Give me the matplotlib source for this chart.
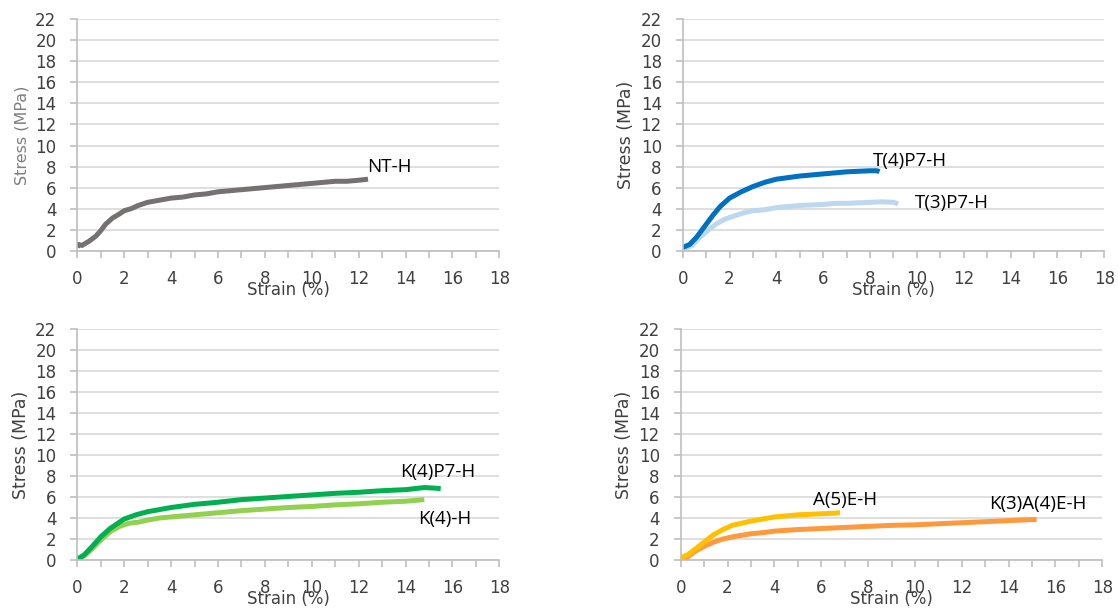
import matplotlib
matplotlib.use("Agg")
import matplotlib.pyplot as plt
from matplotlib.ticker import MultipleLocator

# ---- data ----
nt_x = [0.0, 0.05, 0.2, 0.5, 0.8, 1.0, 1.2, 1.5, 1.8, 2.0, 2.3, 2.6, 3.0, 3.5, 4.0, 4.5, 5.0, 5.5, 6.0, 6.5,
        7.0, 7.5, 8.0, 8.5, 9.0, 9.5, 10.0, 10.5, 11.0, 11.5, 12.0, 12.4]
nt_y = [0.3, 0.6, 0.5, 0.9, 1.4, 1.9, 2.5, 3.1, 3.5, 3.8, 4.0, 4.3, 4.6, 4.8, 5.0, 5.1, 5.3, 5.4, 5.6, 5.7,
        5.8, 5.9, 6.0, 6.1, 6.2, 6.3, 6.4, 6.5, 6.6, 6.6, 6.7, 6.8]

t4_x = [0.0, 0.3, 0.6, 1.0, 1.3, 1.6, 2.0, 2.5, 3.0, 3.5, 4.0, 4.5, 5.0, 5.5, 6.0, 6.5, 7.0, 7.5, 8.0, 8.3, 8.4]
t4_y = [0.3, 0.6, 1.3, 2.5, 3.4, 4.2, 5.0, 5.6, 6.1, 6.5, 6.8, 6.95, 7.1, 7.2, 7.3, 7.4, 7.5, 7.55, 7.6, 7.6, 7.5]

t3_x = [0.1, 0.4, 0.7, 1.0, 1.4, 1.8, 2.2, 2.6, 3.0, 3.5, 4.0, 4.5, 5.0, 5.5, 6.0, 6.5, 7.0, 7.5, 8.0, 8.5, 9.0, 9.2]
t3_y = [0.2, 0.5, 1.2, 1.8, 2.5, 3.0, 3.3, 3.6, 3.8, 3.9, 4.1, 4.2, 4.3, 4.35, 4.4, 4.5, 4.5, 4.55, 4.6, 4.65, 4.6, 4.45]

k4p_x = [0.0, 0.3, 0.6, 1.0, 1.4, 1.8, 2.0, 2.5, 3.0, 3.5, 4.0, 5.0, 6.0, 7.0, 8.0, 9.0, 10.0, 11.0, 12.0, 13.0,
         14.0, 14.8, 15.2, 15.5]
k4p_y = [0.0, 0.5, 1.2, 2.2, 3.0, 3.6, 3.9, 4.3, 4.6, 4.8, 5.0, 5.3, 5.5, 5.75, 5.9, 6.05, 6.2, 6.35, 6.45, 6.6,
         6.7, 6.9, 6.85, 6.8]

k4_x = [0.0, 0.3, 0.6, 1.0, 1.4, 1.8, 2.2, 2.6, 3.0, 3.5, 4.0, 5.0, 6.0, 7.0, 8.0, 9.0, 10.0, 11.0, 12.0, 13.0,
        14.0, 14.8]
k4_y = [0.2, 0.4, 1.0, 1.9, 2.7, 3.2, 3.5, 3.6, 3.8, 4.0, 4.1, 4.3, 4.5, 4.7, 4.85, 5.0, 5.1, 5.25, 5.35, 5.5,
        5.6, 5.75]

a5_x = [0.0, 0.3, 0.6, 1.0, 1.4, 1.8, 2.2, 2.6, 3.0, 3.5, 4.0, 4.5, 5.0, 5.5, 6.0, 6.5, 6.8]
a5_y = [0.2, 0.5, 1.0, 1.7, 2.4, 2.9, 3.3, 3.5, 3.7, 3.9, 4.1, 4.2, 4.3, 4.35, 4.4, 4.45, 4.5]

k3a4_x = [0.0, 0.3, 0.6, 1.0, 1.4, 1.8, 2.2, 2.6, 3.0, 3.5, 4.0, 5.0, 6.0, 7.0, 8.0, 9.0, 10.0, 11.0, 12.0,
          13.0, 14.0, 15.0, 15.2]
k3a4_y = [0.0, 0.3, 0.8, 1.3, 1.7, 2.0, 2.2, 2.35, 2.5, 2.6, 2.75, 2.9, 3.0, 3.1, 3.2, 3.3, 3.35, 3.45, 3.55,
          3.65, 3.75, 3.85, 3.85]

x_label = "Strain (%)"
y_label = "Stress (MPa)"

panels = [
    ([77.3, 19.3, 499.3, 250.7], [(nt_x, nt_y, "#767171", "NT-H", (12.35, 8.0))]),
    ([682.7, 19.3, 1104.3, 250.7], [(t3_x, t3_y, "#BDD7EE", "T(3)P7-H", (9.92, 4.5)),
                                    (t4_x, t4_y, "#0070C0", "T(4)P7-H", (8.14, 8.5))]),
    ([77.3, 329.0, 499.3, 560.0], [(k4_x, k4_y, "#92D050", "K(4)-H", (14.55, 3.9)),
                                   (k4p_x, k4p_y, "#00B050", "K(4)P7-H", (13.77, 8.35))]),
    ([680.7, 329.0, 1102.3, 560.0], [(k3a4_x, k3a4_y, "#FF9A3C", "K(3)A(4)E-H", (13.18, 5.3)),
                                     (a5_x, a5_y, "#FFC000", "A(5)E-H", (5.66, 5.7))]),
]

W, H = 1118, 610
fig = plt.figure(figsize=(W / 100, H / 100), dpi=100)

for i, (rect, series) in enumerate(panels):
    l, t, r, b = rect
    ax = fig.add_axes([l / W, 1 - b / H, (r - l) / W, (b - t) / H])
    ax.set_xlim(0, 18)
    ax.set_ylim(0, 22)
    ax.xaxis.set_major_locator(MultipleLocator(2))
    ax.xaxis.set_minor_locator(MultipleLocator(1))
    ax.yaxis.set_major_locator(MultipleLocator(2))
    ax.grid(axis="y", color="#D9D9D9", linewidth=1.2)
    ax.set_axisbelow(True)
    for s in ["top", "right"]:
        ax.spines[s].set_visible(False)
    for s in ["left", "bottom"]:
        ax.spines[s].set_color("#BFBFBF")
        ax.spines[s].set_linewidth(1.2)
    ax.tick_params(axis="x", which="both", length=5, color="#BFBFBF", width=1.2,
                   labelsize=12, labelcolor="#404040", pad=9)
    ax.tick_params(axis="y", which="major", length=5, color="#BFBFBF", width=1.2,
                   labelsize=12, labelcolor="#404040", pad=10)
    for x, y, c, lab, (lx, ly) in series:
        ax.plot(x, y, color=c, linewidth=3.6, solid_capstyle="butt")
        ax.text(lx, ly, lab, ha="left", va="center", fontsize=13.5, color="#000000", family="Open Sans")
    ax.set_xlabel(x_label, fontsize=12, color="#404040", labelpad=-5)
    ycol = "#7F7F7F" if i == 0 else "#404040"
    ax.set_ylabel(y_label, fontsize=11.5 if i == 0 else 12.5, color=ycol, labelpad=4)

fig.savefig("out.png", dpi=100)
